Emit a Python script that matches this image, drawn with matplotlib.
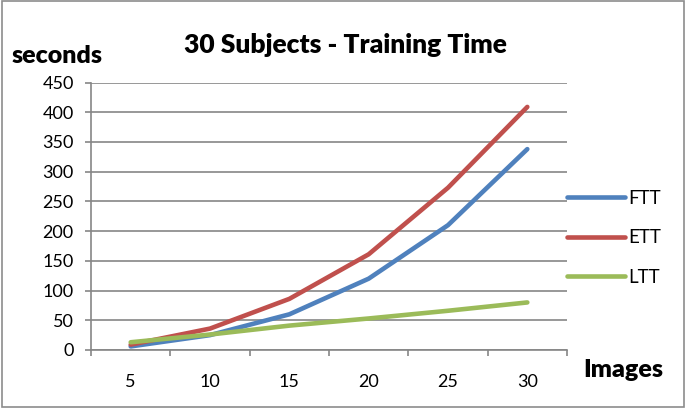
import matplotlib.pyplot as plt
import numpy as np

plt.rcParams['font.family'] = ['Lato', 'DejaVu Sans']

# training time per number of images
images = ['5', '10', '15', '20', '25', '30']
ftt = [6, 25, 60, 120, 210, 338]
ett = [9, 36, 86, 161, 273, 409]
ltt = [13, 26, 41, 53, 66, 80]

series = [('FTT', ftt, '#4F81BD'), ('ETT', ett, '#C0504D'), ('LTT', ltt, '#9BBB59')]

fig = plt.figure(figsize=(6.86, 4.08), dpi=100, facecolor='white')
ax = fig.add_axes([0.1327, 0.1422, 0.6938, 0.6555])

x = np.arange(len(images))
for name, vals, col in series:
    ax.plot(x, vals, color=col, lw=3.3, solid_capstyle='round', label=name)

grid_col = '#868686'
ax.set_xlim(-0.5, len(images) - 0.5)
ax.set_ylim(0, 450)
ax.set_yticks(np.arange(0, 451, 50))
ax.yaxis.grid(True, color=grid_col, lw=1.2)
ax.set_axisbelow(True)

# category labels centred, ticks at the boundaries
ax.set_xticks(x)
ax.set_xticklabels(images)
ax.set_xticks(np.arange(-0.5, len(images)), minor=True)
ax.tick_params(axis='x', which='major', length=0, pad=17, labelsize=13)
ax.tick_params(axis='x', which='minor', length=4.5, width=1.2, color=grid_col, direction='out')
ax.tick_params(axis='y', length=4.5, width=1.2, color=grid_col, labelsize=13, pad=8)

for s in ['top', 'right']:
    ax.spines[s].set_visible(False)
for s in ['left', 'bottom']:
    ax.spines[s].set_color(grid_col)
    ax.spines[s].set_linewidth(1.2)

fig.text(0.504, 0.89, '30 Subjects - Training Time', ha='center', va='center',
         fontsize=19, fontweight='heavy')
fig.text(0.083, 0.862, 'seconds', ha='center', va='center', fontsize=18, fontweight='heavy')
fig.text(0.908, 0.094, 'Images', ha='center', va='center', fontsize=18, fontweight='heavy')

leg = ax.legend(loc='center left', bbox_to_anchor=(0.98, 0.42), frameon=False,
                borderpad=0, fontsize=13.5, handlelength=3.1, labelspacing=1.2,
                handletextpad=0.2)
for h in leg.get_lines():
    h.set_linewidth(3.3)
    h.set_solid_capstyle('round')

# chart border
fig.patches.append(plt.Rectangle((0.003, 0.003), 0.994, 0.994, transform=fig.transFigure,
                                 fill=False, edgecolor='#8c8c8c', lw=1.2))

fig.savefig('out.png', dpi=100, facecolor='white')
